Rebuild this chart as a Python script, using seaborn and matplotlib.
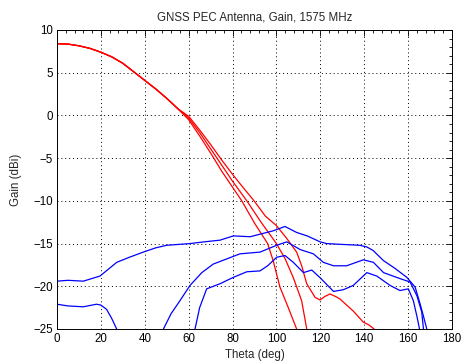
import numpy as np
import pandas as pd
import seaborn as sns
import matplotlib
matplotlib.use("Agg")
import matplotlib.pyplot as plt
from matplotlib.ticker import MultipleLocator

# ---- data ----
red_a_theta = [0, 5, 10, 15, 20, 25, 30, 35, 40, 45, 50, 55, 60, 65, 70, 75, 80, 84.2, 90, 96, 98.5, 101.6, 105.4, 109.2, 109.8]
red_a_gain = [8.4, 8.35, 8.15, 7.85, 7.4, 6.85, 6.1, 5.1, 4.1, 3.1, 2.0, 0.8, -0.5, -2.4, -4.4, -6.5, -8.4, -10.0, -12.6, -15.0, -17.0, -20.1, -22.5, -25.0, -26.0]

red_b_theta = [0, 5, 10, 15, 20, 25, 30, 35, 40, 45, 50, 55, 60, 65, 70, 75, 80, 86.5, 93, 100, 104, 107.7, 111.5, 113.8, 114.4]
red_b_gain = [8.4, 8.35, 8.15, 7.85, 7.4, 6.85, 6.1, 5.1, 4.1, 3.1, 2.0, 0.8, -0.3, -2.0, -3.9, -5.8, -7.7, -10.0, -12.5, -15.0, -16.8, -19.0, -21.7, -25.0, -26.0]

red_c_theta = [0, 5, 10, 15, 20, 25, 30, 35, 40, 45, 50, 55, 60, 65, 70, 75, 80, 85, 89.8, 95, 100, 104.7, 109.2, 111.5, 113.8, 117.6, 119.9, 122, 124.4, 127, 129, 135, 139.6, 142, 144.5, 145.5]
red_c_gain = [8.4, 8.35, 8.15, 7.85, 7.4, 6.85, 6.1, 5.1, 4.1, 3.1, 2.0, 0.8, -0.1, -1.7, -3.4, -5.2, -6.9, -8.5, -10.0, -11.8, -12.9, -14.4, -16.0, -17.6, -19.7, -21.3, -21.6, -21.2, -20.9, -21.2, -21.5, -22.9, -24.2, -24.5, -25.0, -25.8]

blue_1_theta = [0, 5, 12, 19.6, 27.2, 33, 39.3, 45, 50, 60.6, 67, 74.3, 80.4, 88, 98.6, 103.9, 109.2, 114, 119.9, 122.9, 130, 138, 141.2, 144, 148.8, 154, 159.4, 163.2, 165.4, 167, 168.5, 169]
blue_1_gain = [-19.4, -19.3, -19.4, -18.8, -17.2, -16.6, -16.0, -15.5, -15.2, -15.0, -14.8, -14.6, -14.1, -14.2, -13.5, -13.0, -13.7, -14.1, -14.8, -15.0, -15.1, -15.2, -15.4, -15.8, -17.0, -17.9, -18.95, -20.1, -22.0, -23.5, -25.0, -26.0]

blue_2a_theta = [0, 5, 12, 18, 20, 22.6, 25, 27.2, 27.8]
blue_2a_gain = [-22.1, -22.3, -22.4, -22.1, -22.2, -22.7, -23.8, -25.0, -26.0]

blue_2b_theta = [47.8, 48.5, 52, 56, 60.6, 66, 71.2, 77.3, 83.4, 92.5, 100.1, 104.7, 110.8, 116.8, 121.4, 126, 132, 139.6, 144.2, 148.8, 156.3, 160.9, 164, 166.2, 167, 167.6]
blue_2b_gain = [-26.0, -25.0, -23.2, -21.7, -19.9, -18.4, -17.4, -16.8, -16.2, -16.0, -15.2, -14.8, -15.7, -16.2, -17.2, -17.6, -17.6, -16.9, -17.2, -18.4, -19.1, -19.5, -21.1, -23.0, -25.0, -26.0]

blue_3_theta = [62.4, 62.9, 65, 68.2, 74.3, 80.4, 86.5, 92.5, 96, 100.1, 103.9, 107.7, 112.3, 116.1, 119.9, 126, 130.5, 135, 141.2, 145.7, 151.8, 156.3, 160.1, 162.4, 164, 165.2, 165.8]
blue_3_gain = [-26.0, -25.0, -22.5, -20.3, -19.7, -18.95, -18.3, -18.2, -17.6, -16.6, -16.4, -17.2, -18.4, -18.1, -19.0, -20.6, -20.4, -19.9, -18.4, -18.8, -19.9, -20.5, -20.3, -21.7, -23.5, -25.0, -26.0]

title = "GNSS PEC Antenna, Gain, 1575 MHz"
xlabel = "Theta (deg)"
ylabel = "Gain (dBi)"

# ---- styling ----
sns.set_theme(style="white")
plt.rcParams["font.family"] = ["Liberation Sans", "DejaVu Sans"]
plt.rcParams["font.size"] = 8

fig = plt.figure(figsize=(4.72, 3.62), dpi=100)
ax = fig.add_axes([57 / 472, 1 - 329 / 362, 395 / 472, 299 / 362])

series = [
    (red_a_theta, red_a_gain, "#ff0000"),
    (red_b_theta, red_b_gain, "#ff0000"),
    (red_c_theta, red_c_gain, "#ff0000"),
    (blue_1_theta, blue_1_gain, "#0000ff"),
    (blue_2a_theta, blue_2a_gain, "#0000ff"),
    (blue_2b_theta, blue_2b_gain, "#0000ff"),
    (blue_3_theta, blue_3_gain, "#0000ff"),
]
for th, g, c in series:
    sns.lineplot(x=th, y=g, color=c, lw=0.9, ax=ax, sort=False, estimator=None)

ax.set_xlim(0, 180)
ax.set_ylim(-25, 10)
ax.xaxis.set_major_locator(MultipleLocator(20))
ax.xaxis.set_minor_locator(MultipleLocator(4))
ax.yaxis.set_major_locator(MultipleLocator(5))
ax.yaxis.set_minor_locator(MultipleLocator(1))
ax.tick_params(which="both", direction="in", top=True, right=True, colors="black",
               labelsize=8.3, pad=3)
ax.tick_params(which="major", length=4, width=0.6)
ax.tick_params(which="minor", length=2.5, width=0.6)
ax.grid(True, which="major", color="black", lw=0.7, linestyle=(0, (1, 3)))
for s in ax.spines.values():
    s.set_color("black")
    s.set_linewidth(0.7)

ax.set_title(title, fontsize=8.3, pad=7)
ax.set_xlabel(xlabel, fontsize=8.3, labelpad=2.5)
ax.set_ylabel(ylabel, fontsize=8.3, labelpad=8)

fig.savefig("out.png", dpi=100, facecolor="white")
